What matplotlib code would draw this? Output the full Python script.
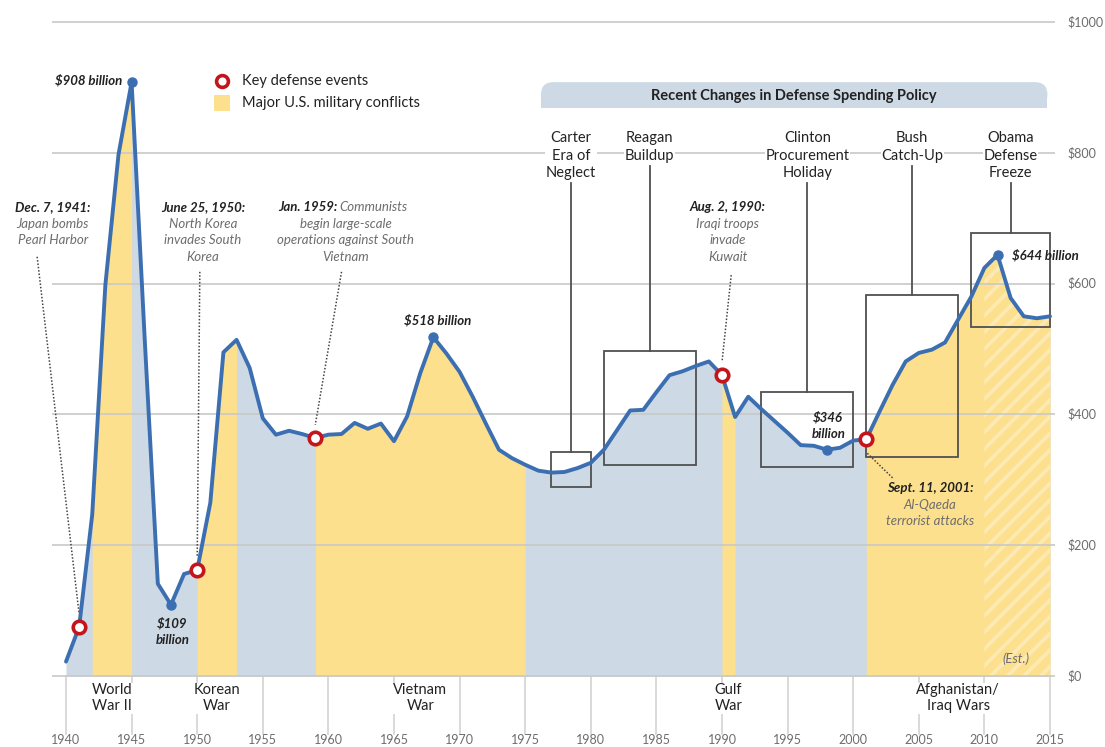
import numpy as np
import matplotlib
matplotlib.use("Agg")
import matplotlib.pyplot as plt
from matplotlib.patches import Rectangle, FancyBboxPatch

plt.rcParams['font.family'] = ['Lato', 'DejaVu Sans']
plt.rcParams['hatch.linewidth'] = 2.6

# ---- data: national defense spending, billions of constant dollars ----
years = np.arange(1940, 2016)
spending = np.array([
    22, 75, 247, 598, 797, 908, 515, 141, 109, 156,          # 1940-1949
    162, 265, 495, 514, 471, 394, 369, 375, 370, 364,        # 1950-1959
    369, 370, 387, 378, 386, 359, 397, 463, 518, 493,        # 1960-1969
    465, 427, 386, 346, 333, 323, 314, 311, 312, 318,        # 1970-1979
    326, 346, 376, 406, 407, 434, 460, 466, 474, 481,        # 1980-1989
    460, 396, 427, 408, 390, 372, 353, 352, 346, 349,        # 1990-1999
    360, 362, 404, 445, 481, 494, 499, 510, 545, 580,        # 2000-2009
    624, 644, 578, 550, 547, 550,                            # 2010-2015
])
estimate_start = 2010

conflict_start = [1942, 1950, 1959, 1990, 2001]
conflict_end = [1945, 1953, 1975, 1991, 2015]
conflict_names = ["World\nWar II", "Korean\nWar", "Vietnam\nWar", "Gulf\nWar",
                  "Afghanistan/\nIraq Wars"]

event_years = [1941, 1950, 1959, 1990, 2001]
event_dates = ["Dec. 7, 1941:", "June 25, 1950:", "Jan. 1959:", "Aug. 2, 1990:",
               "Sept. 11, 2001:"]
event_texts = ["Japan bombs\nPearl Harbor", "North Korea\ninvades South\nKorea",
               "Communists\nbegin large-scale\noperations against South\nVietnam",
               "Iraqi troops\ninvade\nKuwait", "Al-Qaeda\nterrorist attacks"]

highlight_years = [1945, 1948, 1968, 1998, 2011]

policy_names = ["Carter\nEra of\nNeglect", "Reagan\nBuildup",
                "Clinton\nProcurement\nHoliday", "Bush\nCatch-Up",
                "Obama\nDefense\nFreeze"]
policy_start = [1977, 1981, 1993, 2001, 2009]
policy_end = [1980, 1988, 2000, 2008, 2015]

y_ticks = [0, 200, 400, 600, 800, 1000]
y_tick_labels = ["$0", "$200", "$400", "$600", "$800", "$1000"]
x_ticks = list(range(1940, 2016, 5))

# ---- colours ----
BLUE_FILL = "#cdd9e4"
YELLOW = "#fde08d"
HATCH = "#fde9b4"
LINE = "#3c6fb1"
RED = "#c3161c"
GRID = "#c8c8c8"
DARK = "#222222"
GREY_TXT = "#6d6d6d"
BOX = "#505050"

fig = plt.figure(figsize=(11.05, 7.47), dpi=100)
ax = fig.add_axes([0, 0, 1, 1])
PX_YEAR = 13.12     # pixels per year
PX_UNIT = 0.654     # pixels per billion
ax.set_xlim(1940 - 66 / PX_YEAR, 1940 + (1105 - 66) / PX_YEAR)
ax.set_ylim(-(747 - 676) / PX_UNIT, 676 / PX_UNIT)
ax.axis("off")

def val(y):
    return float(np.interp(y, years, spending))

# ---- area fills ----
ax.fill_between(years, 0, spending, color=BLUE_FILL, lw=0, zorder=1)
for a, b in zip(conflict_start, conflict_end):
    m = (years >= a) & (years <= b)
    ax.fill_between(years[m], 0, spending[m], color=YELLOW, lw=0, zorder=1.1)
m = years >= estimate_start
ax.fill_between(years[m], 0, spending[m], facecolor="none", edgecolor=HATCH,
                hatch="//", lw=0, zorder=1.2)
ax.text(2012.4, 26, "(Est.)", ha="center", va="center", fontsize=9.5,
        style="italic", color=GREY_TXT, zorder=3)

# ---- grid and axis labels ----
gx0, gx1 = 1938.93, 2015.38
for v, lab in zip(y_ticks, y_tick_labels):
    ax.plot([gx0, gx1], [v, v], color=GRID, lw=1.2, zorder=2,
            solid_capstyle="butt")
    ax.text(2016.3, v, lab, ha="left", va="center", fontsize=9,
            color=GREY_TXT)
for x in x_ticks:
    ax.plot([x, x], [0, -88], color="#d0d0d0", lw=1.1, zorder=0.5)
    ax.text(x, -98, str(x), ha="center", va="center", fontsize=9,
            color=GREY_TXT)
for a, b, name in zip(conflict_start, conflict_end, conflict_names):
    ax.text((a + b) / 2, -34, name, ha="center", va="center", fontsize=10.5,
            color=DARK, linespacing=1.15,
            bbox=dict(facecolor="white", edgecolor="none", pad=0.5))

# ---- policy periods ----
box_low = [289, 323, 319, 335, 534]
box_high = [343, 497, 434, 582, 677]
for name, a, b, lo, hi in zip(policy_names, policy_start, policy_end,
                              box_low, box_high):
    ax.add_patch(Rectangle((a, lo), b - a, hi - lo, fill=False, ec=BOX,
                           lw=1.3, zorder=4))
    cx = (a + b) / 2
    nlines = name.count("\n") + 1
    label_bottom = 754 if nlines == 3 else 780
    ax.plot([cx, cx], [hi, label_bottom], color=BOX, lw=1.3, zorder=4)
    ax.text(cx, 833, name, ha="center", va="top", fontsize=10.5, color=DARK,
            linespacing=1.32, zorder=6,
            bbox=dict(facecolor="white", edgecolor="none", pad=0.5))

# banner with rounded top
bx0, bx1, by0, by1 = 1976.2, 2014.8, 869, 908
ax.add_patch(FancyBboxPatch((bx0, by0), bx1 - bx0, by1 - by0,
                            boxstyle="round,pad=0,rounding_size=0.95",
                            mutation_aspect=PX_YEAR / PX_UNIT,
                            fc=BLUE_FILL, ec="none", zorder=3))
ax.add_patch(Rectangle((bx0, by0), bx1 - bx0, (by1 - by0) / 2, fc=BLUE_FILL,
                       ec="none", zorder=3))
ax.text((bx0 + bx1) / 2, 887, "Recent Changes in Defense Spending Policy",
        ha="center", va="center", fontsize=10.5, fontweight="bold",
        color=DARK, zorder=4)

# ---- spending line and markers ----
ax.plot(years, spending, color=LINE, lw=2.8, zorder=5,
        solid_joinstyle="round", solid_capstyle="round")
ax.plot(highlight_years, [val(y) for y in highlight_years], "o", ms=6.5,
        color=LINE, zorder=6)
ax.plot(event_years, [val(y) for y in event_years], "o", ms=9, mfc="white",
        mec=RED, mew=2.6, zorder=7)

# highlighted values
bi = dict(fontsize=9.5, fontweight="bold", style="italic", color=DARK, zorder=8)
ax.text(1944.3, 911, "$908 billion", ha="right", va="center", **bi)
ax.text(1948.1, 81, "$109", ha="center", va="center", **bi)
ax.text(1948.1, 55, "billion", ha="center", va="center", **bi)
ax.text(1968.3, 544, "$518 billion", ha="center", va="center", **bi)
ax.text(1998.1, 396, "$346", ha="center", va="center", **bi)
ax.text(1998.1, 370, "billion", ha="center", va="center", **bi)
ax.text(2012.1, 644, "$644 billion", ha="left", va="center", **bi)

# ---- key defense events ----
it = dict(fontsize=9.5, style="italic", color=GREY_TXT, linespacing=1.45,
          zorder=8)
note_x = [1939.0, 1950.45, 1961.3, 1990.45, 2005.85]
note_y = [717, 717, 717, 717, 287]
lead_top = [(1937.8, 641), (1950.2, 618), (1961.0, 618), (1990.7, 613),
            (2003.0, 303)]
for i, (ey, date, txt) in enumerate(zip(event_years, event_dates, event_texts)):
    x, y = note_x[i], note_y[i]
    ev = val(ey)
    lx, ly = lead_top[i]
    ax.plot([lx, ey], [ly, ev + (20 if ly > ev else -20)], color="#444444",
            lw=1.1, ls=(0, (1, 1.2)), zorder=4.5)
    if ey == 1959:
        ax.text(1960.66, y, date, ha="right", va="center", **bi)
        first, rest = txt.split("\n", 1)
        ax.text(1960.85, y, first, ha="left", va="center", **it)
        ax.text(x, y - 16, rest, ha="center", va="top", **it)
    else:
        ax.text(x, y, date, ha="center", va="center", **bi)
        ax.text(x, y - 16, txt, ha="center", va="top", **it)

# ---- legend ----
ax.plot([1951.9], [910], "o", ms=8.5, mfc="white", mec=RED, mew=2.6)
ax.add_patch(Rectangle((1951.9 - 0.6, 876 - 12), 1.2, 24, fc=YELLOW, ec="none"))
ax.text(1953.4, 910, "Key defense events", ha="left", va="center",
        fontsize=10.5, color=DARK)
ax.text(1953.4, 876, "Major U.S. military conflicts", ha="left",
        va="center", fontsize=10.5, color=DARK)

fig.savefig("out.png", dpi=100, facecolor="white")
